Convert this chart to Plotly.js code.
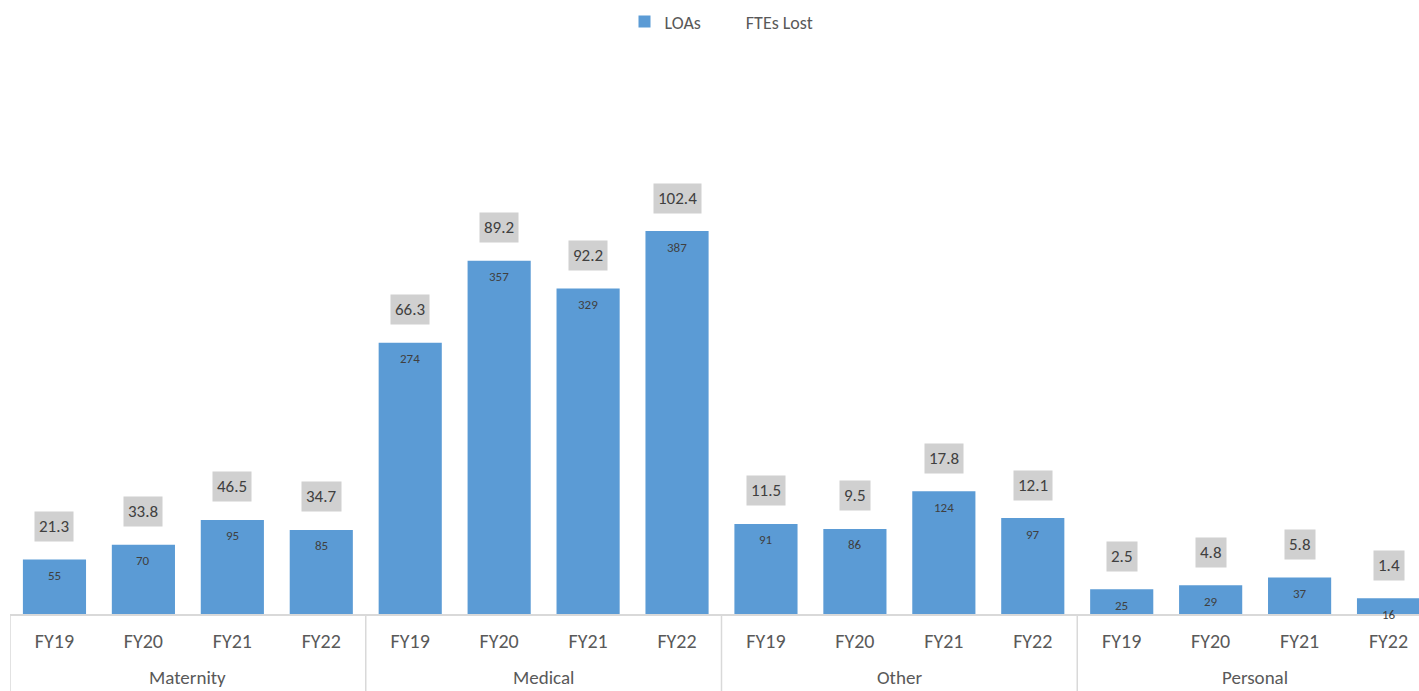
<!DOCTYPE html>
<html>
<head>
<meta charset="utf-8">
<script src="https://cdn.plot.ly/plotly-3.0.1.min.js"></script>
<style>
html,body{margin:0;padding:0;overflow:hidden;background:#fff;}
#chart{width:1434px;height:691px;}
</style>
</head>
<body>
<div id="chart"></div>
<script>
const groups = ['Maternity', 'Medical', 'Other', 'Personal'];
const years = ['FY19', 'FY20', 'FY21', 'FY22'];
const loas = [55, 70, 95, 85, 274, 357, 329, 387, 91, 86, 124, 97, 25, 29, 37, 16];
const ftesLost = [21.3, 33.8, 46.5, 34.7, 66.3, 89.2, 92.2, 102.4, 11.5, 9.5, 17.8, 12.1, 2.5, 4.8, 5.8, 1.4];

// category keys (unique) and their displayed year labels
const xKeys = [], xYearText = [];
groups.forEach(g => years.forEach(y => { xKeys.push(g + ' ' + y); xYearText.push(y); }));

const FONT = 'Carlito, Calibri, Lato, "Open Sans", sans-serif';
const TXT = '#595959';
const PLOT_H = 691 - 60 - 77;

const traces = [
  {
    type: 'bar', name: 'LOAs',
    x: xKeys, y: loas,
    marker: {color: '#5B9BD5'},
    hoverinfo: 'skip'
  },
  {
    type: 'scatter', name: 'FTEs Lost', mode: 'markers',
    x: xKeys, y: ftesLost, yaxis: 'y2',
    marker: {color: 'rgba(0,0,0,0)', size: 8, line: {width: 0}},
    hoverinfo: 'skip'
  }
];

const annotations = [];
const shapes = [];
loas.forEach((v, i) => {
  annotations.push({
    x: xKeys[i], y: v, xref: 'x', yref: 'y', text: String(v),
    showarrow: false, yanchor: 'middle', yshift: -16,
    font: {family: FONT, size: 13, color: '#404040'}
  });
  annotations.push({
    x: xKeys[i], y: v, xref: 'x', yref: 'y', text: ftesLost[i].toFixed(1),
    showarrow: false, yanchor: 'middle', yshift: 33,
    bgcolor: '#d0d0d0', borderpad: 4,
    font: {family: FONT, size: 17, color: '#404040'}
  });
});
groups.forEach((g, gi) => {
  const first = gi * years.length;
  annotations.push({
    x: first + (years.length - 1) / 2, xref: 'x',
    y: -(677 - 614) / PLOT_H, yref: 'paper', yanchor: 'middle',
    text: g, showarrow: false,
    font: {family: FONT, size: 19, color: TXT}
  });
  shapes.push({
    type: 'line', xref: 'x', yref: 'paper',
    x0: first - 0.5, x1: first - 0.5, y0: 0, y1: -77 / PLOT_H,
    line: {color: '#d9d9d9', width: 1.5}
  });
});

const layout = {
  width: 1434, height: 691,
  margin: {l: 10, r: 1, t: 60, b: 77},
  paper_bgcolor: '#ffffff', plot_bgcolor: '#ffffff',
  font: {family: FONT, color: TXT},
  bargap: 0.29,
  showlegend: true,
  legend: {
    orientation: 'h', x: 0.5, xanchor: 'center', y: 1.069, yanchor: 'middle',
    itemwidth: 30,
    font: {family: FONT, size: 18, color: TXT}
  },
  xaxis: {
    type: 'category',
    range: [-0.5, 15.5], autorange: false,
    tickvals: xKeys, ticktext: xYearText,
    showline: true, linecolor: '#d9d9d9', linewidth: 1.5,
    ticks: '', ticklabelstandoff: 8,
    tickfont: {family: FONT, size: 20, color: TXT},
    showgrid: false, zeroline: false
  },
  yaxis: {
    range: [0, 559.8], visible: false, showgrid: false, zeroline: false
  },
  yaxis2: {
    overlaying: 'y', side: 'right', range: [0, 150], visible: false, showgrid: false
  },
  annotations: annotations,
  shapes: shapes
};

Plotly.newPlot('chart', traces, layout, {displayModeBar: false, staticPlot: true});
</script>
</body>
</html>
